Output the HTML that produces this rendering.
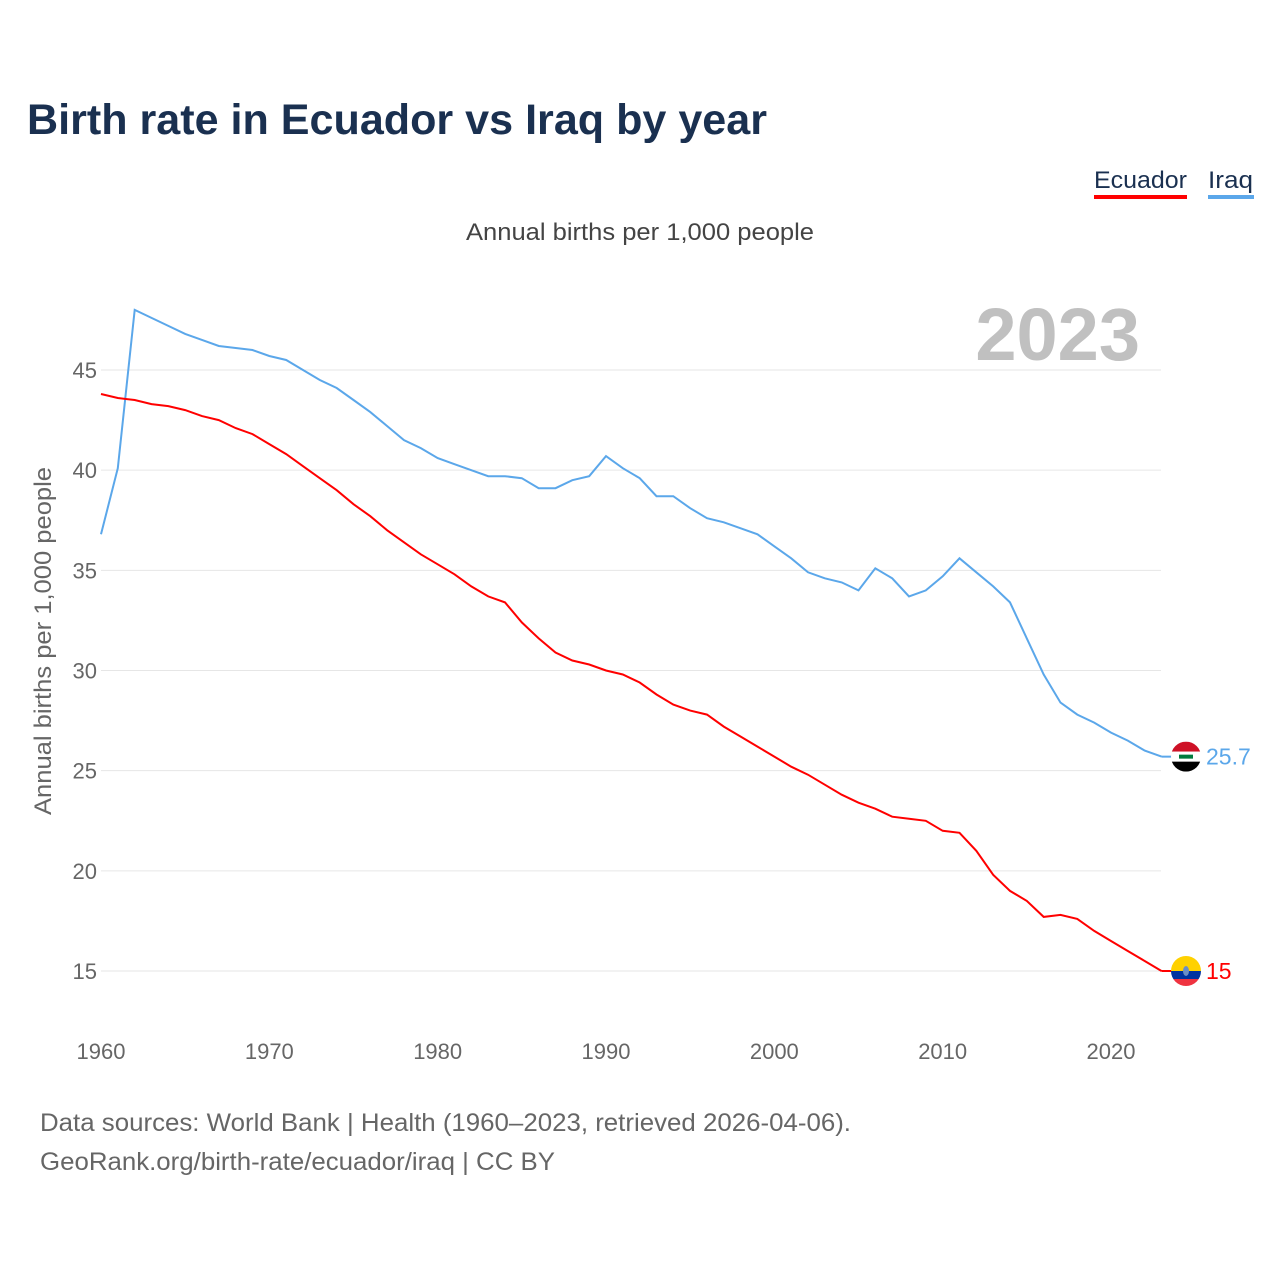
<!DOCTYPE html>
<html><head><meta charset="utf-8">
<style>
body{margin:0;background:#fff;font-family:"Liberation Sans",sans-serif;}
#wrap{position:relative;width:1280px;height:1280px;overflow:hidden;}
</style></head>
<body>
<div id="wrap">
<svg id="chart" width="1280" height="1280">
<text x="27" y="134" font-size="43" font-weight="bold" fill="#1a3050" textLength="740" lengthAdjust="spacingAndGlyphs">Birth rate in Ecuador vs Iraq by year</text>
<g>
<text x="1094" y="188" font-size="24" fill="#1a3050" textLength="93" lengthAdjust="spacingAndGlyphs">Ecuador</text>
<rect x="1094" y="195" width="93" height="4" fill="#ff0000"/>
<text x="1208" y="188" font-size="24" fill="#1a3050" textLength="45" lengthAdjust="spacingAndGlyphs">Iraq</text>
<rect x="1208" y="195" width="46" height="4" fill="#5ba7ea"/>
</g>
<text x="466" y="240" font-size="24" fill="#444" textLength="348" lengthAdjust="spacingAndGlyphs">Annual births per 1,000 people</text>
<text x="1140" y="360" font-size="74" font-weight="bold" fill="#c0c0c0" text-anchor="end">2023</text>
<text transform="translate(51,815) rotate(-90)" font-size="24" fill="#666" textLength="348" lengthAdjust="spacingAndGlyphs">Annual births per 1,000 people</text>
<g id="grid"></g><g id="xt"></g><g id="lines"></g>
<text x="40" y="1131" font-size="25" fill="#666" textLength="811" lengthAdjust="spacingAndGlyphs">Data sources: World Bank | Health (1960–2023, retrieved 2026-04-06).</text>
<text x="40" y="1170" font-size="25" fill="#666" textLength="515" lengthAdjust="spacingAndGlyphs">GeoRank.org/birth-rate/ecuador/iraq | CC BY</text>
</svg>
</div>
<script>
const years=[];for(let y=1960;y<=2023;y++)years.push(y);
const iraq=[36.8,40.1,48.0,47.6,47.2,46.8,46.5,46.2,46.1,46.0,45.7,45.5,45.0,44.5,44.1,43.5,42.9,42.2,41.5,41.1,40.6,40.3,40.0,39.7,39.7,39.6,39.1,39.1,39.5,39.7,40.7,40.1,39.6,38.7,38.7,38.1,37.6,37.4,37.1,36.8,36.2,35.6,34.9,34.6,34.4,34.0,35.1,34.6,33.7,34.0,34.7,35.6,34.9,34.2,33.4,31.6,29.8,28.4,27.8,27.4,26.9,26.5,26.0,25.7];
const ecuador=[43.8,43.6,43.5,43.3,43.2,43.0,42.7,42.5,42.1,41.8,41.3,40.8,40.2,39.6,39.0,38.3,37.7,37.0,36.4,35.8,35.3,34.8,34.2,33.7,33.4,32.4,31.6,30.9,30.5,30.3,30.0,29.8,29.4,28.8,28.3,28.0,27.8,27.2,26.7,26.2,25.7,25.2,24.8,24.3,23.8,23.4,23.1,22.7,22.6,22.5,22.0,21.9,21.0,19.8,19.0,18.5,17.7,17.8,17.6,17.0,16.5,16.0,15.5,15.0];
const yTicks=[15,20,25,30,35,40,45];
const xTicks=[1960,1970,1980,1990,2000,2010,2020];
const NS="http://www.w3.org/2000/svg";
const X=y=>101+(y-1960)*(1010/60);
const Y=v=>971-(v-15)*(601/30);
function mk(tag,attrs,parent,txt){const e=document.createElementNS(NS,tag);for(const k in attrs)e.setAttribute(k,attrs[k]);if(txt!==undefined)e.textContent=txt;parent.appendChild(e);return e;}
const grid=document.getElementById('grid');
yTicks.forEach(t=>{
 const l=mk('line',{x1:101,x2:1161,y1:Y(t),y2:Y(t),stroke:'#e6e6e6','stroke-width':1},grid);
 
 
 const tx=mk('text',{x:97,y:Y(t)+8,'font-size':22,fill:'#666','text-anchor':'end'},grid,String(t));
 
 
});
const xt=document.getElementById('xt');
xTicks.forEach(t=>{
 const tx=mk('text',{x:X(t),y:1059,'font-size':22,fill:'#666','text-anchor':'middle'},xt,String(t));
 
 
});
const lines=document.getElementById('lines');
function series(vals,color,name){
 const d=vals.map((v,i)=>(i?'L':'M')+X(years[i]).toFixed(1)+','+Y(v).toFixed(1)).join(' ');
 const p=mk('path',{d:d,fill:'none',stroke:color,'stroke-width':2},lines);
 
 
 const last=vals[vals.length-1],ly=Y(last),lx=X(years[years.length-1]);
 mk('line',{x1:lx,x2:1172,y1:ly,y2:ly,stroke:color,'stroke-width':2},lines);
 const g=mk('g',{},lines);
 
 
 const cid='c'+name;
 const cp=mk('clipPath',{id:cid},g);mk('circle',{cx:1186,cy:ly,r:15},cp);
 const fg=mk('g',{'clip-path':'url(#'+cid+')'},g);
 if(name==='iraq'){
  mk('rect',{x:1170,y:ly-15,width:32,height:10,fill:'#ce1126'},fg);
  mk('rect',{x:1170,y:ly-5,width:32,height:10,fill:'#fff'},fg);
  mk('rect',{x:1170,y:ly+5,width:32,height:10,fill:'#000'},fg);
  mk('rect',{x:1179,y:ly-2,width:14,height:4,fill:'#007a3d'},fg);
 }else{
  mk('rect',{x:1170,y:ly-15,width:32,height:15,fill:'#ffd100'},fg);
  mk('rect',{x:1170,y:ly,width:32,height:8,fill:'#0033a0'},fg);
  mk('rect',{x:1170,y:ly+8,width:32,height:8,fill:'#ef3340'},fg);
  mk('ellipse',{cx:1186,cy:ly,rx:3,ry:5,fill:'#6b8fc7'},fg);
 }
 const lab=mk('text',{x:1206,y:ly+8,'font-size':23,fill:color},lines,String(last));
 
 
}
series(iraq,'#5ba7ea','iraq');
series(ecuador,'#ff0000','ecuador');
</script>
</body></html>
